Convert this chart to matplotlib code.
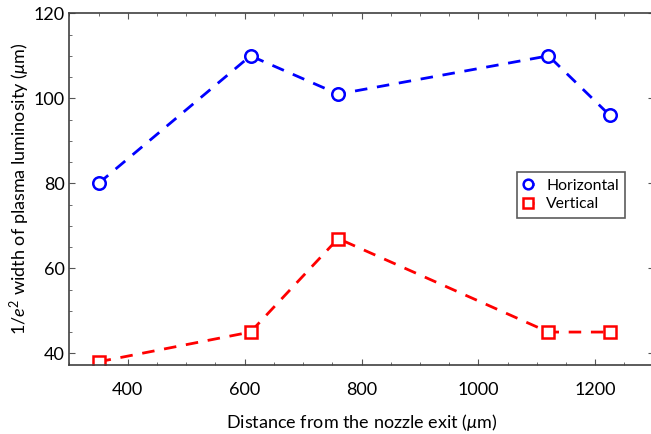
import matplotlib
matplotlib.use("Agg")
import matplotlib.pyplot as plt
from matplotlib.ticker import MultipleLocator

plt.rcParams['font.family'] = ['Lato', 'DejaVu Sans']
plt.rcParams['mathtext.fontset'] = 'custom'
plt.rcParams['mathtext.it'] = 'Lato:italic'
plt.rcParams['mathtext.rm'] = 'Lato'

# distances from nozzle exit (um)
distance = [350, 610, 760, 1120, 1225]
horizontal = [80, 110, 101, 110, 96]
vertical = [38, 45, 67, 45, 45]

fig = plt.figure(figsize=(6.51, 4.34), dpi=100)
ax = fig.add_axes([0.1066, 0.159, 0.8974, 0.8103])

ax.plot(distance, horizontal, color='blue', linestyle=(0, (4.5, 3.5)), linewidth=2,
        marker='o', markersize=9, markerfacecolor='white', markeredgewidth=1.8,
        label='Horizontal')
ax.plot(distance, vertical, color='red', linestyle=(0, (4.5, 3.5)), linewidth=2,
        marker='s', markersize=9, markerfacecolor='white', markeredgewidth=1.8,
        label='Vertical')

ax.set_xlim(300, 1300)
ax.set_ylim(37.25, 120)
ax.set_xticks([400, 600, 800, 1000, 1200])
ax.set_yticks([40, 60, 80, 100, 120])
ax.xaxis.set_minor_locator(MultipleLocator(50))
ax.yaxis.set_minor_locator(MultipleLocator(5))
ax.tick_params(which='both', direction='in', top=True, right=True,
               color='#555555', labelsize=13)
ax.tick_params(which='major', length=4)
ax.tick_params(which='minor', length=2.5)
ax.tick_params(axis='x', pad=12.5)
for s in ax.spines.values():
    s.set_color('#404040')
    s.set_linewidth(1.2)

ax.set_xlabel(r'Distance from the nozzle exit ($\mu$m)', fontsize=13, labelpad=10)
ax.set_ylabel(r'1/$e^2$ width of plasma luminosity ($\mu$m)', fontsize=13, labelpad=1)

leg = ax.legend(loc='upper left', bbox_to_anchor=(0.752, 0.57), fontsize=11.3,
                frameon=True, fancybox=False, edgecolor='#333333',
                handlelength=0.7, handletextpad=0.8, borderpad=0.4, labelspacing=0.3)
leg.get_frame().set_linewidth(1.2)
for h in leg.legend_handles:
    h.set_markersize(7)

fig.savefig('out.png', dpi=100)
